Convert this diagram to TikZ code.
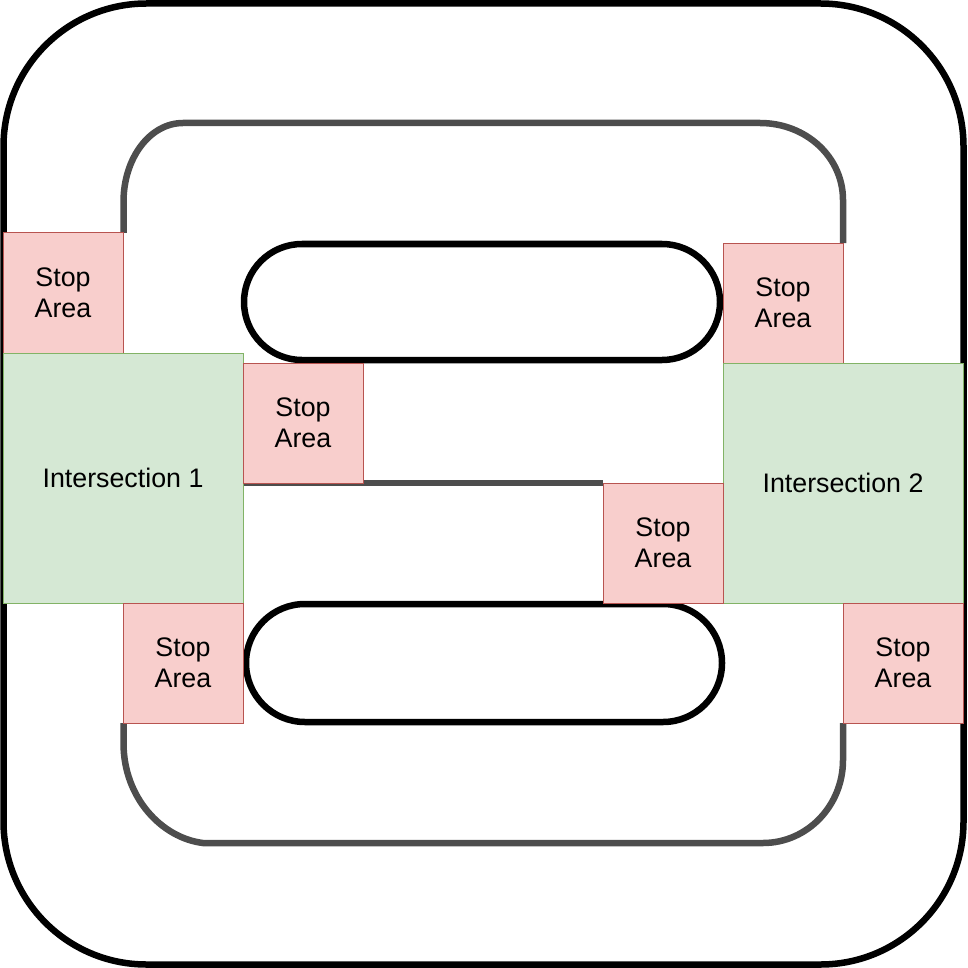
\documentclass[tikz,border=0pt]{standalone}
\usepackage{fontspec}
\setmainfont{Liberation Sans}
\usetikzlibrary{backgrounds}
\definecolor{stopfill}{HTML}{F8CECC}
\definecolor{stopdraw}{HTML}{B85450}
\definecolor{intfill}{HTML}{D5E8D4}
\definecolor{intdraw}{HTML}{82B366}
\definecolor{road}{HTML}{4D4D4D}
\begin{document}
\begin{tikzpicture}[x=1pt,y=-1pt,
  box/.style={rectangle, inner sep=0pt, outer sep=0pt, line width=1pt, align=center,
    font=\fontsize{26.8}{31.5}\selectfont},
  stopbox/.style={box, fill=stopfill, draw=stopdraw, minimum width=120pt, minimum height=120pt},
  intbox/.style={box, fill=intfill, draw=intdraw, minimum width=240pt},
  roadline/.style={draw=road, line width=6.5pt},
  border/.style={draw=black, line width=6.5pt}]
\useasboundingbox (0,0) rectangle (967,968);
% nodes
\node[stopbox] (sa1) at (63,293) {Stop\\Area};
\node[intbox, minimum height=250pt] (int1) at (123,478) {Intersection 1};
\node[stopbox] (sa2) at (303,423) {Stop\\Area};
\node[stopbox] (sa3) at (183,663) {Stop\\Area};
\node[stopbox] (sa4) at (783,303) {Stop\\Area};
\node[intbox, minimum height=240pt] (int2) at (843,483) {Intersection 2};
\node[stopbox] (sa5) at (663,543) {Stop\\Area};
\node[stopbox] (sa6) at (903,663) {Stop\\Area};
\begin{scope}[on background layer]
  % outer border
  \draw[border, rounded corners=143pt] (3.5,3.5) rectangle (963.5,964.5);
  % inner road loop (top)
  \draw[roadline] ([xshift=0.5pt]sa1.north east) -- (123.5,202)
     .. controls (123.5,158) and (150,123) .. (183,123) -- (760,123)
     .. controls (806,123) and (843,157) .. (843,200) -- (sa4.north east);
  % inner road loop (bottom)
  \draw[roadline] ([xshift=0.5pt]sa3.south west) -- (123.5,743)
     .. controls (123.5,798) and (162,838) .. (203,843) -- (763,843)
     .. controls (807,843) and (843,806) .. (843,760) -- (sa6.south west);
  % middle road
  \draw[roadline] (int1.east |- sa2.south) -- (sa5.north west);
  % obstacles
  \draw[border, rounded corners=58pt] (244,244) rectangle (720,360);
  \draw[border, rounded corners=59pt] (246,604) rectangle (722,722);
\end{scope}
\end{tikzpicture}
\end{document}
